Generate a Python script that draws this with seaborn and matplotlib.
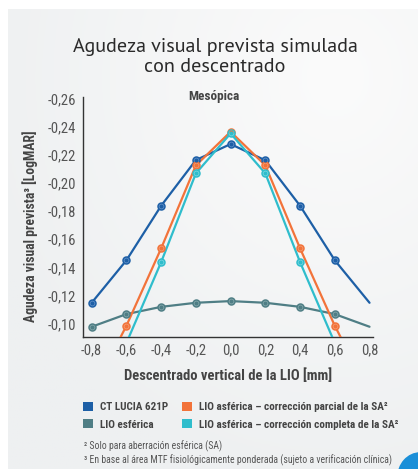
import numpy as np
import pandas as pd
import matplotlib
matplotlib.use("Agg")
import matplotlib.pyplot as plt
import seaborn as sns
from matplotlib.patches import Circle, Patch
from matplotlib.ticker import MultipleLocator, FuncFormatter

# ---------- data ----------
x_vals = [-0.8, -0.6, -0.4, -0.2, 0.0, 0.2, 0.4, 0.6, 0.8]
ct_lucia = [-0.1147, -0.145, -0.1839, -0.2165, -0.2279, -0.2163, -0.1839, -0.145, -0.1147]
lio_esferica = [-0.0976, -0.1066, -0.1118, -0.1147, -0.1159, -0.1147, -0.1118, -0.1066, -0.0976]
asf_parcial = [-0.050, -0.0983, -0.1535, -0.2127, -0.2367, -0.2127, -0.1535, -0.0983, -0.050]
asf_completa = [-0.030, -0.086, -0.1437, -0.207, -0.2355, -0.207, -0.1437, -0.086, -0.030]

series_names = ["CT LUCIA 621P", "LIO esférica",
                "LIO asférica – corrección parcial de la SA²",
                "LIO asférica – corrección completa de la SA²"]
series_vals = [ct_lucia, lio_esferica, asf_parcial, asf_completa]
colors = ["#1d5fa6", "#4f7e85", "#f2733a", "#2fbdcc"]
light = ["#6f9bd0", "#8fb0b4", "#f7a47e", "#86dbe3"]

df = pd.DataFrame({
    "x": x_vals * 4,
    "y": sum(series_vals, []),
    "serie": [n for n in series_names for _ in x_vals],
})

sns.set_style("white")
plt.rcParams['font.family'] = ['Roboto Condensed', 'DejaVu Sans']
txt = "#444444"

fig = plt.figure(figsize=(4.18, 4.69), dpi=100)
fig.patch.set_facecolor("white")

# background panel with soft gradient
bg = fig.add_axes([8/418, 0, 1 - 8/418, 1 - 9/469])
gx, gy = np.meshgrid(np.linspace(0, 1, 200), np.linspace(0, 1, 200))
d = np.sqrt((gx - 0.8) ** 2 + (gy - 0.15) ** 2)
bg.imshow(d, cmap=matplotlib.colors.LinearSegmentedColormap.from_list("g", ["#fbfbfb", "#eef0f1"]),
          extent=[0, 1, 1, 0], aspect="auto", vmin=0, vmax=0.9)
bg.set_xlim(0, 1); bg.set_ylim(1, 0)
bg.axis("off")

ax = fig.add_axes([83/418, 1 - 336.7/469, 290/418, 240/469])
ax.set_facecolor("none")

sns.lineplot(data=df, x="x", y="y", hue="serie", palette=colors, ax=ax,
             legend=False, linewidth=1.6, zorder=3)
for vals, c, lc in zip(series_vals, colors, light):
    ax.plot(x_vals[:-1], vals[:-1], linestyle="none", marker="o", markersize=5,
            mfc=lc, mec=c, mew=1.1, zorder=4)
    ax.plot(x_vals[:-1], vals[:-1], linestyle="none", marker="o", markersize=2,
            color=c, zorder=5)

ax.set_xlim(-0.85, 0.82)
ax.set_ylim(-0.0905, -0.2617)
ax.xaxis.set_major_locator(MultipleLocator(0.2))
ax.xaxis.set_minor_locator(MultipleLocator(0.1))
ax.yaxis.set_major_locator(MultipleLocator(0.02))
ax.yaxis.set_minor_locator(MultipleLocator(0.01))
ax.xaxis.set_major_formatter(FuncFormatter(lambda v, p: f"{v:.1f}".replace(".", ",").replace("-0,0", "0,0")))
ax.yaxis.set_major_formatter(FuncFormatter(lambda v, p: f"{v:.2f}".replace(".", ",")))
ax.tick_params(axis="both", which="major", direction="in", length=5, width=0.8,
               colors="#333333", labelcolor="#555555", labelsize=10.5, pad=5)
ax.tick_params(axis="both", which="minor", direction="in", length=3, width=0.8, colors="#333333")
for s in ["top", "right"]:
    ax.spines[s].set_visible(False)
for s in ["left", "bottom"]:
    ax.spines[s].set_color("#333333")
    ax.spines[s].set_linewidth(1.0)

ax.set_xlabel("Descentrado vertical de la LIO [mm]", fontsize=10.5, fontweight="bold", color=txt, labelpad=8)
ax.set_ylabel("Agudeza visual prevista³ [LogMAR]", fontsize=9.8, fontweight="bold", color=txt)
ax.yaxis.set_label_coords(-0.155, 0.46)
ax.text(0.45, 1.0, "Mesópica", transform=ax.transAxes, ha="center", va="center",
        fontsize=9.5, fontweight="bold", color=txt)

fig.text(215/418, 1 - 57/469, "Agudeza visual prevista simulada\ncon descentrado",
         ha="center", va="center", fontsize=14.5, color="#2a2a2a", linespacing=1.1,
         family=["PT Sans", "DejaVu Sans"])

# legend
handles = [Patch(facecolor=c, edgecolor="none") for c in colors]
fig.legend(handles, series_names,
           loc="upper left", bbox_to_anchor=(83/418, 1 - 402/469), ncol=2, frameon=False,
           borderpad=0, borderaxespad=0,
           handlelength=0.9, handleheight=0.9, handletextpad=0.6,
           columnspacing=1.3, labelspacing=0.6, prop={"weight": "bold", "size": 8})
for t in fig.legends[0].get_texts():
    t.set_color(txt)

fig.text(84/418, 1 - 446/469, "² Solo para aberración esférica (SA)", fontsize=7, color="#555555", va="center")
fig.text(84/418, 1 - 460/469, "³ En base al área MTF fisiológicamente ponderada (sujeto a verificación clínica)",
         fontsize=7, color="#555555", va="center")

# corner badge
fig.patches.append(Circle((420/418, 1 - 478/469), 23/418, transform=fig.transFigure,
                          facecolor="#1a8fd8", edgecolor="none", zorder=0))

fig.savefig("out.png", dpi=100)
